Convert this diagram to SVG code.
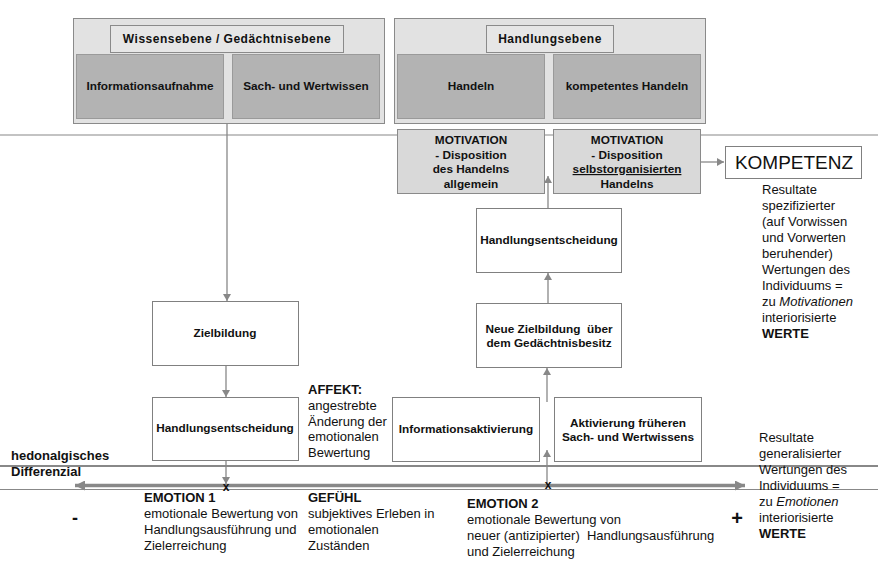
<svg xmlns="http://www.w3.org/2000/svg" width="878" height="565" viewBox="0 0 878 565">
<defs>
<style>
.cont{fill:#e2e2e2;stroke:#8a8a8a;stroke-width:1}
.title{fill:#e6e6e6;stroke:#8a8a8a;stroke-width:1}
.dark{fill:#b3b3b3;stroke:#9a9a9a;stroke-width:1}
.mot{fill:#d9d9d9;stroke:#8a8a8a;stroke-width:1}
.wb{fill:#ffffff;stroke:#808080;stroke-width:1}
.lbl{font-family:"Liberation Sans",Arial,sans-serif;font-size:11.8px;font-weight:bold;fill:#111;text-anchor:middle}
.ttl{font-family:"Liberation Sans",Arial,sans-serif;font-size:12px;font-weight:bold;fill:#111;text-anchor:middle;letter-spacing:0.5px}
.txt{font-family:"Liberation Sans",Arial,sans-serif;font-size:13px;fill:#111}
.b{font-weight:bold}
.conn{stroke:#888;stroke-width:1.3;fill:none}
.hl{stroke:#888;fill:none}
</style>
<marker id="ah" markerUnits="userSpaceOnUse" markerWidth="8" markerHeight="8" refX="7" refY="4" orient="auto">
<path d="M0,0 L7,4 L0,8 z" fill="#888"/>
</marker>
<marker id="bah" markerUnits="userSpaceOnUse" markerWidth="11" markerHeight="10" refX="10" refY="5" orient="auto-start-reverse">
<path d="M0,0 L10,5 L0,10 z" fill="#888"/>
</marker>
</defs>
<rect width="878" height="565" fill="#ffffff"/>

<g id="lines">
<line class="hl" x1="0" y1="135" x2="878" y2="135" stroke-width="1.2"/>
<line class="hl" x1="0" y1="466" x2="878" y2="466" stroke-width="2"/>
<line class="hl" x1="0" y1="489.5" x2="878" y2="489.5" stroke-width="1"/>
</g>

<g id="connectors">
<line class="conn" x1="227" y1="124" x2="227" y2="301" marker-end="url(#ah)"/>
<line class="conn" x1="226" y1="365" x2="226" y2="397" marker-end="url(#ah)"/>
<line class="conn" x1="226" y1="460" x2="226" y2="484" marker-end="url(#ah)"/>
<line class="conn" x1="547" y1="485" x2="547" y2="450" marker-end="url(#ah)"/>
<line class="conn" x1="547" y1="402" x2="547" y2="368" marker-end="url(#ah)"/>
<line class="conn" x1="548" y1="303" x2="548" y2="273" marker-end="url(#ah)"/>
<line class="conn" x1="548" y1="208" x2="548" y2="176" marker-end="url(#ah)"/>
<line class="conn" x1="701" y1="162" x2="724" y2="162" marker-end="url(#ah)"/>
<line x1="75" y1="485.5" x2="745" y2="485.5" stroke="#888" stroke-width="3.5" marker-start="url(#bah)" marker-end="url(#bah)"/>
</g>

<g id="wissensebene">
<rect class="cont" x="73.5" y="18.5" width="311" height="105"/>
<rect class="title" x="110.5" y="25.5" width="233" height="27"/>
<text class="ttl" x="227" y="43">Wissensebene / Gedächtnisebene</text>
</g>
<g id="informationsaufnahme">
<rect class="dark" x="76.5" y="54.5" width="147" height="64"/>
<text class="lbl" x="150" y="90">Informationsaufnahme</text>
</g>
<g id="sachwertwissen">
<rect class="dark" x="232.5" y="54.5" width="147" height="64"/>
<text class="lbl" x="306" y="90">Sach- und Wertwissen</text>
</g>

<g id="handlungsebene">
<rect class="cont" x="394.5" y="18.5" width="311" height="105"/>
<rect class="title" x="486.5" y="25.5" width="127" height="27"/>
<text class="ttl" x="550" y="43">Handlungsebene</text>
</g>
<g id="handeln">
<rect class="dark" x="397.5" y="54.5" width="147" height="64"/>
<text class="lbl" x="471" y="90">Handeln</text>
</g>
<g id="kompetenteshandeln">
<rect class="dark" x="553.5" y="54.5" width="147" height="64"/>
<text class="lbl" x="627" y="90">kompetentes Handeln</text>
</g>

<g id="motivation1">
<rect class="mot" x="397.5" y="129.5" width="147" height="64"/>
<text class="lbl" x="471" y="144">MOTIVATION</text>
<text class="lbl" x="471" y="158.5">- Disposition</text>
<text class="lbl" x="471" y="173">des Handelns</text>
<text class="lbl" x="471" y="187.5">allgemein</text>
</g>
<g id="motivation2">
<rect class="mot" x="553.5" y="129.5" width="147" height="64"/>
<text class="lbl" x="627" y="144">MOTIVATION</text>
<text class="lbl" x="627" y="158.5">- Disposition</text>
<text class="lbl" x="627" y="173" text-decoration="underline">selbstorganisierten</text>
<text class="lbl" x="627" y="187.5">Handelns</text>
</g>

<g id="kompetenz">
<rect class="wb" x="725.5" y="146.5" width="136" height="32"/>
<text x="794" y="168.5" font-family="'Liberation Sans',Arial,sans-serif" font-size="19" fill="#111" text-anchor="middle">KOMPETENZ</text>
</g>

<g id="werte-motivation">
<text class="txt" x="762" y="194">Resultate</text>
<text class="txt" x="762" y="210">spezifizierter</text>
<text class="txt" x="762" y="226">(auf Vorwissen</text>
<text class="txt" x="762" y="242">und Vorwerten</text>
<text class="txt" x="762" y="258">beruhender)</text>
<text class="txt" x="762" y="274">Wertungen des</text>
<text class="txt" x="762" y="290">Individuums =</text>
<text class="txt" x="762" y="306">zu <tspan font-style="italic">Motivationen</tspan></text>
<text class="txt" x="762" y="322">interiorisierte</text>
<text class="txt b" x="762" y="338">WERTE</text>
</g>

<g id="handlungsentscheidung2">
<rect class="wb" x="476.5" y="208.5" width="145" height="64"/>
<text class="lbl" x="549" y="244">Handlungsentscheidung</text>
</g>
<g id="neuezielbildung">
<rect class="wb" x="476.5" y="303.5" width="145" height="64"/>
<text class="lbl" x="549" y="333" xml:space="preserve">Neue Zielbildung  über</text>
<text class="lbl" x="549" y="347">dem Gedächtnisbesitz</text>
</g>
<g id="informationsaktivierung">
<rect class="wb" x="392.5" y="397.5" width="147" height="64"/>
<text class="lbl" x="466" y="433">Informationsaktivierung</text>
</g>
<g id="aktivierung">
<rect class="wb" x="554.5" y="397.5" width="147" height="64"/>
<text class="lbl" x="628" y="427">Aktivierung früheren</text>
<text class="lbl" x="628" y="441">Sach- und Wertwissens</text>
</g>

<g id="zielbildung">
<rect class="wb" x="152.5" y="301.5" width="146" height="64"/>
<text class="lbl" x="225" y="337">Zielbildung</text>
</g>
<g id="handlungsentscheidung1">
<rect class="wb" x="152.5" y="397.5" width="146" height="63"/>
<text class="lbl" x="225" y="432">Handlungsentscheidung</text>
</g>

<g id="affekt">
<text class="txt b" x="308" y="394">AFFEKT:</text>
<text class="txt" x="308" y="410">angestrebte</text>
<text class="txt" x="308" y="425.5">Änderung der</text>
<text class="txt" x="308" y="441">emotionalen</text>
<text class="txt" x="308" y="457">Bewertung</text>
</g>

<g id="hedonalgisch">
<text class="txt b" x="11" y="460" font-size="12.5">hedonalgisches</text>
<text class="txt b" x="11" y="476" font-size="12.5">Differenzial</text>
</g>

<g id="marks">
<text x="226" y="491" font-family="'Liberation Sans',Arial,sans-serif" font-size="12" font-weight="bold" fill="#111" text-anchor="middle">x</text>
<text x="548" y="489" font-family="'Liberation Sans',Arial,sans-serif" font-size="12" font-weight="bold" fill="#111" text-anchor="middle">x</text>
<text x="75" y="524" font-family="'Liberation Sans',Arial,sans-serif" font-size="18" font-weight="bold" fill="#111" text-anchor="middle">-</text>
<text x="737" y="525" font-family="'Liberation Sans',Arial,sans-serif" font-size="20" font-weight="bold" fill="#111" text-anchor="middle">+</text>
</g>

<g id="emotion1">
<text class="txt b" x="144" y="502">EMOTION 1</text>
<text class="txt" x="144" y="518">emotionale Bewertung von</text>
<text class="txt" x="144" y="534">Handlungsausführung und</text>
<text class="txt" x="144" y="550">Zielerreichung</text>
</g>
<g id="gefuehl">
<text class="txt b" x="308" y="502">GEFÜHL</text>
<text class="txt" x="308" y="518">subjektives Erleben in</text>
<text class="txt" x="308" y="534">emotionalen</text>
<text class="txt" x="308" y="550">Zuständen</text>
</g>
<g id="emotion2">
<text class="txt b" x="467" y="508">EMOTION 2</text>
<text class="txt" x="467" y="524">emotionale Bewertung von</text>
<text class="txt" x="467" y="540" xml:space="preserve">neuer (antizipierter)  Handlungsausführung</text>
<text class="txt" x="467" y="556">und Zielerreichung</text>
</g>
<g id="werte-emotion">
<text class="txt" x="759" y="442">Resultate</text>
<text class="txt" x="759" y="458">generalisierter</text>
<text class="txt" x="759" y="474">Wertungen des</text>
<text class="txt" x="759" y="490">Individuums =</text>
<text class="txt" x="759" y="506">zu <tspan font-style="italic">Emotionen</tspan></text>
<text class="txt" x="759" y="522">interiorisierte</text>
<text class="txt b" x="759" y="538">WERTE</text>
</g>
</svg>
